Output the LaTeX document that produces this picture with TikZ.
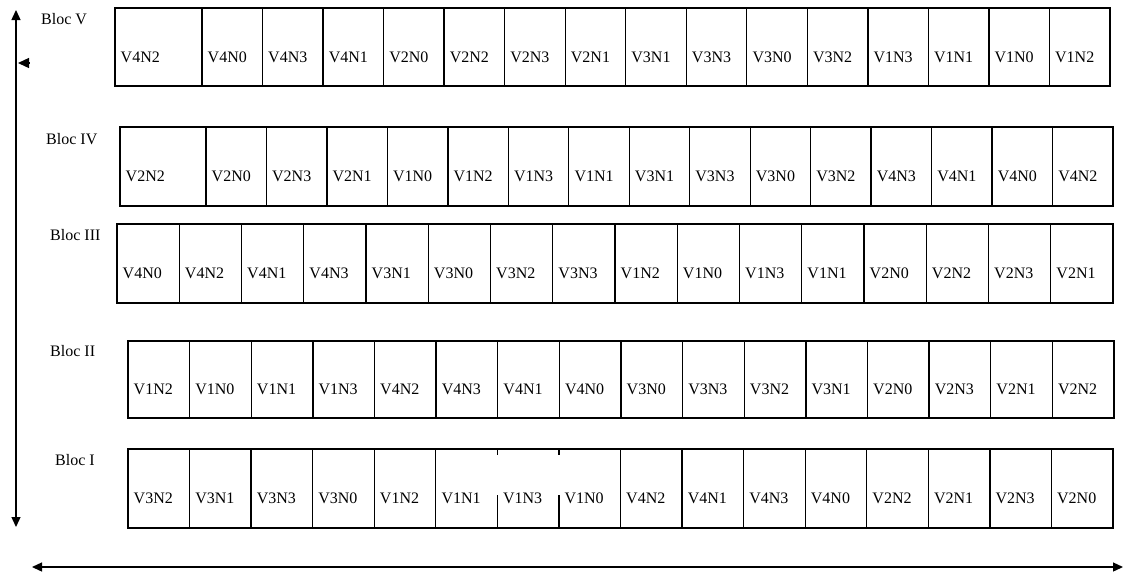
\documentclass[tikz,border=0pt]{standalone}
\usepackage{fontspec}
\setmainfont{Liberation Serif}
\usetikzlibrary{arrows.meta}
\tikzset{
  cell/.style={draw, line width=1.3pt, rectangle, anchor=north west, inner sep=0pt, outer sep=0pt},
  lbl/.style={anchor=west, xshift=5.5pt, yshift=-10pt, inner sep=0pt, font=\fontsize{16}{18}\selectfont},
  bloc/.style={anchor=west, inner sep=0pt, font=\fontsize{16}{18}\selectfont},
  axis/.style={line width=1.3pt, {Triangle[length=10pt,width=9pt]}-{Triangle[length=10pt,width=9pt]}},
  tick/.style={line width=1.3pt, -{Triangle[length=11pt,width=10pt]}},
  gap/.style={fill=white, draw=none}
}
\newcommand\blocrow[7]{%
  \foreach \t [count=\i from 0] in {#7} {%
    \pgfmathsetmacro\xx{\i==0 ? #2 : #2+#3+(\i-1)*#4}%
    \pgfmathsetmacro\ww{\i==0 ? #3 : #4}%
    \node[cell, minimum width=\ww pt, minimum height=#6pt, label={[lbl]west:\t}] (#1-\i) at (\xx,#5) {};
  }}
\begin{document}
\begin{tikzpicture}[x=1pt,y=-1pt]
\useasboundingbox (0,0) rectangle (1129,574);
% rows
\blocrow{r5}{115}{87}{60.533}{8}{78}{V4N2,V4N0,V4N3,V4N1,V2N0,V2N2,V2N3,V2N1,V3N1,V3N3,V3N0,V3N2,V1N3,V1N1,V1N0,V1N2}
\blocrow{r4}{120}{86}{60.467}{127}{79}{V2N2,V2N0,V2N3,V2N1,V1N0,V1N2,V1N3,V1N1,V3N1,V3N3,V3N0,V3N2,V4N3,V4N1,V4N0,V4N2}
\blocrow{r3}{117}{62.25}{62.25}{224}{79}{V4N0,V4N2,V4N1,V4N3,V3N1,V3N0,V3N2,V3N3,V1N2,V1N0,V1N3,V1N1,V2N0,V2N2,V2N3,V2N1}
\blocrow{r2}{128}{61.625}{61.625}{341}{77}{V1N2,V1N0,V1N1,V1N3,V4N2,V4N3,V4N1,V4N0,V3N0,V3N3,V3N2,V3N1,V2N0,V2N3,V2N1,V2N2}
\blocrow{r1}{128}{61.5625}{61.5625}{449}{79}{V3N2,V3N1,V3N3,V3N0,V1N2,V1N1,V1N3,V1N0,V4N2,V4N1,V4N3,V4N0,V2N2,V2N1,V2N3,V2N0}
% broken dividers in Bloc I
\fill[gap] ([xshift=-2pt,yshift=-6pt]r1-6.north west) rectangle ([xshift=2pt,yshift=-46pt]r1-6.north west);
\fill[gap] ([xshift=-2pt,yshift=-6pt]r1-7.north west) rectangle ([xshift=2pt,yshift=-46pt]r1-7.north west);
% bloc labels
\node[bloc] (b5) at (41,19) {Bloc V};
\node[bloc] (b4) at (46,139) {Bloc IV};
\node[bloc] (b3) at (50,235) {Bloc III};
\node[bloc] (b2) at (50,351) {Bloc II};
\node[bloc] (b1) at (55,460) {Bloc I};
% axes
\coordinate (vtop) at (16,10);
\coordinate (vbot) at (16,527);
\draw[axis] (vtop) -- (vbot);
\coordinate (ts) at (29,63);
\coordinate (te) at (18,63);
\draw[tick] (ts) -- (te);
\coordinate (hl) at (32,567);
\coordinate (hr) at (1123,567);
\draw[axis] (hl) -- (hr);
\end{tikzpicture}
\end{document}
